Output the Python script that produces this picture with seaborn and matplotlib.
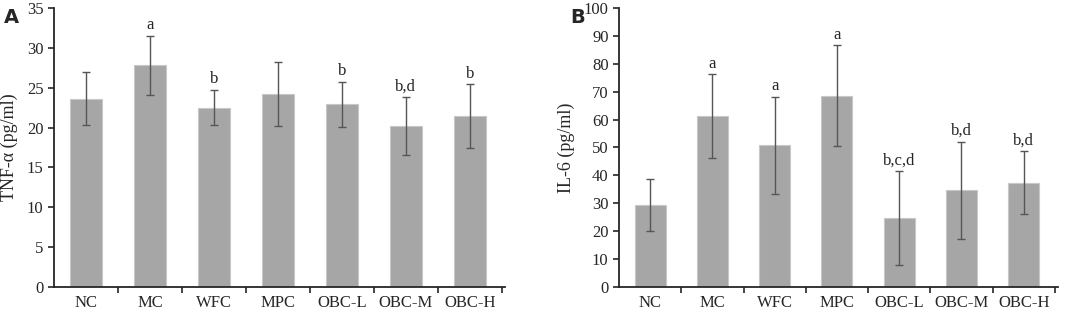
import seaborn as sns
import matplotlib.pyplot as plt
import pandas as pd

groups = ['NC', 'MC', 'WFC', 'MPC', 'OBC-L', 'OBC-M', 'OBC-H']

tnf_mean = [23.6, 27.8, 22.5, 24.2, 22.9, 20.2, 21.4]
tnf_sd = [3.3, 3.7, 2.2, 4.0, 2.8, 3.6, 4.0]
tnf_marks = ['', 'a', 'b', '', 'b', 'b,d', 'b']

il6_mean = [29.3, 61.2, 50.7, 68.6, 24.7, 34.6, 37.4]
il6_sd = [9.4, 15.0, 17.4, 18.0, 16.8, 17.5, 11.2]
il6_marks = ['', 'a', 'a', 'a', 'b,c,d', 'b,d', 'b,d']

sns.set_style('ticks')
plt.rcParams['font.family'] = ['Liberation Serif', 'DejaVu Serif']

fig = plt.figure(figsize=(10.84, 3.15), dpi=100)
axA = fig.add_axes([0.0498, 0.0889, 0.416, 0.886])
axB = fig.add_axes([0.571, 0.0889, 0.405, 0.886])


def panel(ax, means, sds, marks, ymax, ystep, ylabel, letter):
    df = pd.DataFrame({'group': groups, 'value': means})
    sns.barplot(data=df, x='group', y='value', ax=ax, color='#a6a6a6',
                saturation=1, width=0.5, edgecolor='#c8c8c8', linewidth=0.8,
                errorbar=None)
    ax.errorbar(range(len(groups)), means, yerr=sds, fmt='none',
                ecolor='#555555', elinewidth=1.0, capsize=3, capthick=1.0)
    for i, (m, s, t) in enumerate(zip(means, sds, marks)):
        if t:
            ax.text(i, m + s + ymax * 0.01, t, ha='center', va='bottom', fontsize=12)
    ax.set_ylim(0, ymax)
    ax.set_xlim(-0.5, 6.55)
    ax.set_yticks(range(0, ymax + 1, ystep))
    ax.set_xlabel('')
    ax.set_ylabel(ylabel, fontsize=13, labelpad=6)
    ax.set_xticks(range(len(groups)))
    ax.set_xticklabels(groups)
    ax.set_xticks([i + 0.5 for i in range(len(groups))], minor=True)
    ax.tick_params(axis='x', which='major', length=0, pad=6, labelsize=12)
    ax.tick_params(axis='x', which='minor', length=4, width=1.2, direction='out')
    ax.tick_params(axis='y', length=4, width=1.2, labelsize=12)
    for side in ['left', 'bottom']:
        ax.spines[side].set_linewidth(1.3)
    sns.despine(ax=ax)
    ax.text(-0.11, 1.0, letter, transform=ax.transAxes, fontsize=14,
            fontweight='bold', family='DejaVu Sans', ha='left', va='top')


panel(axA, tnf_mean, tnf_sd, tnf_marks, 35, 5, 'TNF-α (pg/ml)', 'A')
panel(axB, il6_mean, il6_sd, il6_marks, 100, 10, 'IL-6 (pg/ml)', 'B')

fig.savefig('out.png', dpi=100)
